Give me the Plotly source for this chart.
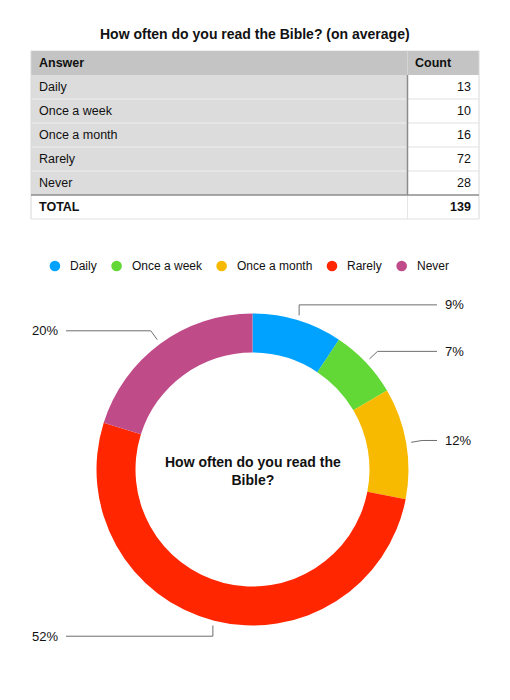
import math
import plotly.graph_objects as go

answers = ["Daily", "Once a week", "Once a month", "Rarely", "Never"]
counts = [13, 10, 16, 72, 28]
colors = ["#00A2FF", "#61D836", "#F8BA00", "#FF2600", "#C04B89"]
header_labels = ["Answer", "Count"]
total_label = "TOTAL"
title_text = "How often do you read the Bible? (on average)"
center_text = "How often do you read the<br>Bible?"

W, H = 510, 700
FONT = "Liberation Sans, Arial, Helvetica, sans-serif"
TXT = "#111111"

def px(x):
    return x / W

def py(y):
    return 1 - y / H

total = sum(counts)

fig = go.Figure()

shapes = []
annotations = []

def rect(x0, y0, x1, y1, fill, line_color=None, lw=0):
    shapes.append(dict(type="rect", xref="paper", yref="paper",
                       x0=px(x0), x1=px(x1), y0=py(y1), y1=py(y0),
                       fillcolor=fill, line=dict(width=lw, color=line_color or fill), layer="below"))

def hline(x0, x1, y, color, w=1):
    shapes.append(dict(type="line", xref="paper", yref="paper", x0=px(x0), x1=px(x1),
                       y0=py(y), y1=py(y), line=dict(color=color, width=w), layer="below"))

def vline(x, y0, y1, color, w=1):
    shapes.append(dict(type="line", xref="paper", yref="paper", x0=px(x), x1=px(x),
                       y0=py(y0), y1=py(y1), line=dict(color=color, width=w), layer="below"))

def text(x, y, s, anchor="left", size=12.5, bold=False):
    annotations.append(dict(x=px(x), y=py(y), xref="paper", yref="paper",
                            text=("<b>%s</b>" % s) if bold else s, showarrow=False,
                            xanchor=anchor, yanchor="middle",
                            font=dict(family=FONT, size=size, color=TXT)))

# ---- table (built from the arrays) ----
TL, TR, TD = 31, 479, 407.5
HT, HB = 50.7, 75
ROW = 24
rect(TL, HT, TR, HB, "#C3C4C3")
text(TL + 6, (HT + HB) / 2, header_labels[0], bold=True)
text(TD + 5, (HT + HB) / 2, header_labels[1], bold=True)
vline(TD, HT, HB, "#D4D4D4")
for i, (a, c) in enumerate(zip(answers, counts)):
    y0 = HB + i * ROW
    rect(TL, y0, TD, y0 + ROW, "#DCDCDC")
    rect(TD, y0, TR, y0 + ROW, "#FFFFFF")
    text(TL + 6, y0 + ROW / 2, a)
    text(TR - 6, y0 + ROW / 2, str(c), anchor="right")
    if i > 0:
        hline(TL, TD, y0, "#EEEEEE")
        hline(TD, TR, y0, "#E2E2E2")
ty0 = HB + len(answers) * ROW
ty1 = ty0 + ROW
text(TL + 6, ty0 + ROW / 2, total_label, bold=True)
text(TR - 6, ty0 + ROW / 2, str(total), anchor="right", bold=True)
vline(TD, ty0, ty1, "#E6E6E6")
# outer light border
vline(TL, HT, ty1, "#D8D8D8")
vline(TR, HT, ty1, "#D8D8D8")
hline(TL, TR, ty1, "#E0E0E0")
# dark dividers
vline(TD, HB, ty0, "#8C8C8C", 1.5)
hline(TL, TR, ty0, "#8C8C8C", 1.5)

# ---- donut ----
CX, CY, R = 252.5, 469.5, 156
fig.add_trace(go.Pie(
    labels=answers,
    values=counts,
    marker=dict(colors=colors, line=dict(width=0)),
    hole=0.75,
    sort=False,
    direction="clockwise",
    rotation=0,
    textinfo="none",
    showlegend=False,
    domain=dict(x=[px(CX - R), px(CX + R)], y=[py(CY + R), py(CY - R)]),
))

# ---- legend (round markers, spacing from approximate Arial widths) ----
AW = {'D': 722, 'a': 556, 'i': 222, 'l': 222, 'y': 500, 'O': 778, 'n': 556, 'c': 500,
      'e': 556, ' ': 278, 'w': 722, 'k': 500, 'm': 833, 'o': 556, 't': 278, 'h': 556,
      'R': 722, 'r': 333, 'N': 722, 'v': 500}
LFS = 12
def tw(s):
    return sum(AW.get(ch, 556) for ch in s) * LFS / 1000.0
MR, GAP_T, GAP_N = 5.3, 13.4, 21.6
widths = [tw(a) for a in answers]
span = 2 * MR / 2 + sum(GAP_T + w for w in widths) + GAP_N * (len(answers) - 1) + MR
cx = 251 - span / 2 + MR
LY = 266
for a, c, w in zip(answers, colors, widths):
    shapes.append(dict(type="circle", xref="paper", yref="paper",
                       x0=px(cx - MR), x1=px(cx + MR), y0=py(LY + MR), y1=py(LY - MR),
                       fillcolor=c, line=dict(width=0)))
    text(cx + GAP_T, LY, a, size=LFS)
    cx += GAP_T + w + GAP_N

# ---- leader lines and percentage labels ----
cum = 0
for a, c in zip(answers, counts):
    mid = (cum + c / 2) / total * 2 * math.pi
    cum += c
    s, co = math.sin(mid), math.cos(mid)
    x0, y0 = CX + (R + 5) * s, CY - (R + 5) * co
    r2 = R + 16
    if abs(s) < 0.35:
        x1, y1 = x0, CY - r2 * co
    else:
        x1, y1 = CX + r2 * s, CY - r2 * co
    pct = "%d%%" % round(100 * c / total)
    if s >= 0:
        x2 = 437
        text(443, y1, pct, size=13)
    else:
        x2 = 66
        text(60, y1, pct, anchor="right", size=13)
    shapes.append(dict(type="path", xref="paper", yref="paper",
                       path="M %f %f L %f %f L %f %f" % (px(x0), py(y0), px(x1), py(y1), px(x2), py(y1)),
                       line=dict(color="#6E6E6E", width=1)))

text(255, 34, title_text, anchor="center", size=14, bold=True)
text(CX, 471, center_text, anchor="center", size=14, bold=True)

fig.update_layout(
    width=W, height=H, autosize=False,
    margin=dict(l=0, r=0, t=0, b=0),
    paper_bgcolor="white", plot_bgcolor="white",
    showlegend=False,
    shapes=shapes,
    annotations=annotations,
)

fig.write_html("out.html")
